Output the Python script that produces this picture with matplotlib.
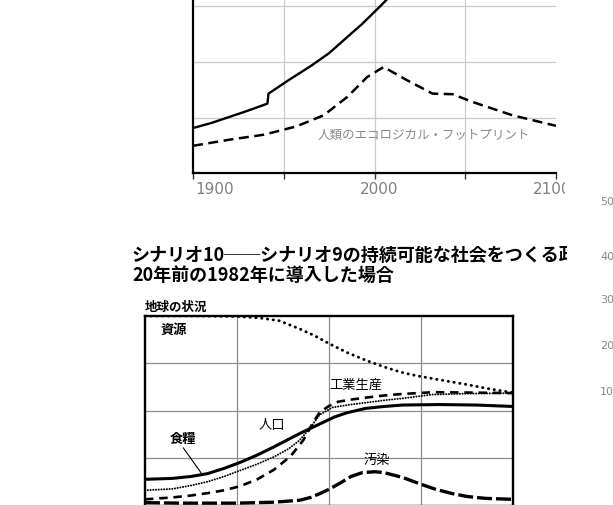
import matplotlib
matplotlib.use("Agg")
import matplotlib.pyplot as plt
from matplotlib.transforms import Bbox, TransformedBbox

plt.rcParams['font.family'] = ['Noto Sans CJK JP', 'DejaVu Sans']

# ---------------- data: upper chart (ecological footprint) ----------------
top_solid_years = [1900, 1910, 1920, 1930, 1941, 1941.6, 1953, 1965, 1975, 1985, 1993, 2003, 2015]
top_solid_vals = [0.81, 0.90, 1.01, 1.12, 1.25, 1.43, 1.68, 1.93, 2.16, 2.45, 2.68, 3.00, 3.40]
top_dash_years = [1900, 1920, 1939, 1957, 1972, 1985, 1996, 2005, 2018, 2032, 2043, 2054, 2076, 2100]
top_dash_vals = [0.49, 0.60, 0.69, 0.84, 1.04, 1.37, 1.73, 1.91, 1.67, 1.43, 1.42, 1.28, 1.04, 0.85]
top_tick_labels = ['1900', '2000', '2100']
top_curve_label = '人類のエコロジカル・フットプリント'

# ---------------- data: scenario 10 chart ----------------
res_years = [1900, 1930, 1950, 1962, 1973, 1984, 1992, 2000, 2010, 2020, 2030, 2039,
             2047, 2057, 2066, 2075, 2087, 2100]
resources = [3.99, 3.99, 3.98, 3.95, 3.89, 3.72, 3.58, 3.41, 3.22, 3.06, 2.92, 2.81,
             2.74, 2.67, 2.61, 2.55, 2.46, 2.38]
pop_years = [1900, 1915, 1925, 1934, 1943, 1952, 1961, 1970, 1977, 1984, 1991, 1997,
             2003, 2010, 2020, 2030, 2040, 2060, 2080, 2100]
population = [0.56, 0.58, 0.62, 0.68, 0.79, 0.92, 1.07, 1.24, 1.38, 1.52, 1.65, 1.76,
              1.87, 1.96, 2.05, 2.09, 2.12, 2.13, 2.12, 2.09]
food_years = [1900, 1915, 1925, 1934, 1943, 1952, 1961, 1970, 1978, 1984, 1990, 1995,
              2002, 2010, 2020, 2030, 2040, 2056, 2075, 2100]
food = [0.33, 0.36, 0.43, 0.51, 0.62, 0.75, 0.88, 1.03, 1.20, 1.38, 1.65, 1.92,
        2.07, 2.12, 2.17, 2.22, 2.26, 2.34, 2.36, 2.37]
ind_years = [1900, 1915, 1925, 1934, 1943, 1952, 1961, 1970, 1979, 1986, 1991, 1995,
             2000, 2005, 2013, 2021, 2030, 2039, 2057, 2080, 2100]
industry = [0.14, 0.18, 0.22, 0.27, 0.33, 0.42, 0.56, 0.76, 1.04, 1.38, 1.73, 1.97,
            2.10, 2.19, 2.24, 2.28, 2.32, 2.35, 2.39, 2.38, 2.37]
pol_years = [1900, 1920, 1950, 1970, 1984, 1990, 1995, 2000, 2006, 2012, 2018, 2025,
             2030, 2040, 2049, 2058, 2067, 2075, 2085, 2100]
pollution = [0.07, 0.06, 0.06, 0.08, 0.12, 0.18, 0.26, 0.35, 0.48, 0.62, 0.70, 0.72,
             0.70, 0.60, 0.47, 0.35, 0.26, 0.20, 0.16, 0.14]
right_tick_labels = ['50', '40', '30', '20', '10']
title_lines = ['シナリオ10──シナリオ9の持続可能な社会をつくる政',
               '20年前の1982年に導入した場合']
panel_label = '地球の状況'

W, H = 613, 505
fig = plt.figure(figsize=(W / 100, H / 100), dpi=100)


def fx(px):
    return px / W


def fy(py):
    return (H - py) / H


def clip_right(artist, px):
    artist.set_clip_box(TransformedBbox(Bbox([[0, -1], [px / W, 2]]), fig.transFigure))
    artist.set_clip_on(True)


# ---------------- upper chart ----------------
ax1 = fig.add_axes([fx(193), fy(173), (556 - 193) / W, 3.2 * 55.5 / H])
ax1.set_xlim(1900, 2100)
ax1.set_ylim(0, 3.2)
for s in ['top', 'right']:
    ax1.spines[s].set_visible(False)
ax1.spines['left'].set_linewidth(1.6)
ax1.spines['bottom'].set_linewidth(1.6)
ax1.set_xticks([1900, 1950, 2000, 2050, 2100])
ax1.set_xticklabels([])
ax1.set_yticks([1, 2, 3])
ax1.set_yticklabels([])
ax1.tick_params(axis='x', direction='out', length=4, width=1.0, color='#333333')
ax1.tick_params(axis='y', length=0)
ax1.grid(axis='y', color='#c9c9c9', linewidth=0.9)
for yr in [1950, 2000, 2050]:
    ax1.axvline(yr, color='#c9c9c9', linewidth=0.9, zorder=0)
ax1.plot(top_solid_years, top_solid_vals, color='black', linewidth=1.7)
ax1.plot(top_dash_years, top_dash_vals, color='black', linewidth=1.8,
         linestyle=(0, (4, 2.2)))
ax1.text(1968.9, 0.68, top_curve_label, fontsize=9, color='#8a8a8a',
         va='center', ha='left')
xt = ax1.get_xaxis_transform()
lab_y = -17 / (3.2 * 55.5)
ax1.text(1901.1, lab_y, top_tick_labels[0], transform=xt, fontsize=11,
         color='#808080', ha='left', va='center', family=['DejaVu Sans'])
ax1.text(2002.8, lab_y, top_tick_labels[1], transform=xt, fontsize=11,
         color='#808080', ha='center', va='center', family=['DejaVu Sans'])
t2100 = ax1.text(2087.3, lab_y, top_tick_labels[2], transform=xt, fontsize=11,
                 color='#808080', ha='left', va='center', family=['DejaVu Sans'],
                 clip_on=True)
clip_right(t2100, 565)

# ---------------- title ----------------
t1 = fig.text(fx(132), fy(255), title_lines[0], fontsize=13, fontweight='bold',
              va='center', ha='left')
clip_right(t1, 567)
fig.text(fx(132), fy(275), title_lines[1], fontsize=13, fontweight='bold',
         va='center', ha='left')
fig.text(fx(145), fy(307), panel_label, fontsize=9, fontweight='bold',
         va='center', ha='left')

# right-hand partial axis labels
for lab, py in zip(right_tick_labels, [202, 257, 300, 346, 392]):
    fig.text(fx(600), fy(py), lab, fontsize=8, color='#888888', va='center',
             ha='left', family=['DejaVu Sans'])

# ---------------- scenario 10 chart ----------------
ax2 = fig.add_axes([fx(145), fy(506), (513 - 145) / W, (506 - 315.5) / H])
ax2.set_xlim(1900, 2100)
ax2.set_ylim(0, 4)
for s in ax2.spines.values():
    s.set_linewidth(1.7)
ax2.set_xticks([1950, 2000, 2050])
ax2.set_yticks([1, 2, 3])
ax2.set_xticklabels([])
ax2.set_yticklabels([])
ax2.tick_params(length=0)
ax2.grid(color='#8c8c8c', linewidth=0.9)
ax2.set_axisbelow(True)

ax2.plot(res_years, resources, color='black', linewidth=2.1,
         linestyle=(0, (0.1, 1.9)), dash_capstyle='round')
ax2.plot(food_years, food, color='black', linewidth=1.4,
         linestyle=(0, (0.1, 1.3)), dash_capstyle='round')
ax2.plot(ind_years, industry, color='black', linewidth=1.9,
         linestyle=(0, (3.2, 2.2)))
ax2.plot(pop_years, population, color='black', linewidth=2.2)
ax2.plot(pol_years, pollution, color='black', linewidth=2.4,
         linestyle=(0, (4.5, 1.2)))

lab_kw = dict(fontsize=9.5, va='center', ha='center', fontweight='bold')
ax2.text(1915.5, 3.69, '資源', **lab_kw)
ax2.text(2014.7, 2.53, '工業生産', fontsize=9.5, va='center', ha='center')
ax2.text(1968.8, 1.69, '人口', fontsize=9.5, va='center', ha='center')
ax2.text(1920.9, 1.40, '食糧', **lab_kw)
ax2.text(2025.8, 0.96, '汚染', fontsize=9.5, va='center', ha='center')
ax2.annotate('', xy=(1931.5, 0.64), xytext=(1919.9, 1.27),
             arrowprops=dict(arrowstyle='-', color='black', linewidth=0.8))

fig.savefig('out.png', dpi=100)
